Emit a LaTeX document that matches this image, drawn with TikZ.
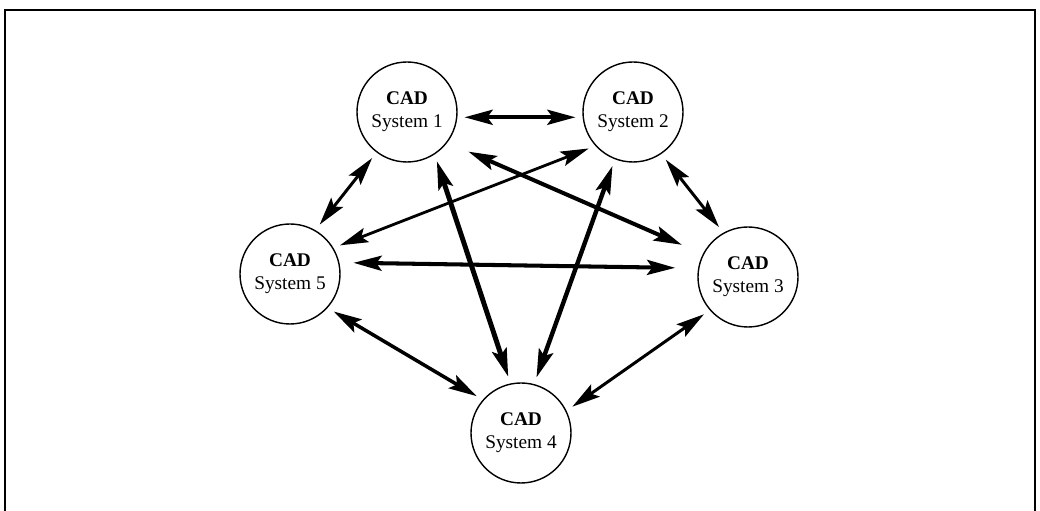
\documentclass[tikz,border=0pt]{standalone}
\usepackage{fontspec}
\setmainfont{Liberation Serif}
\usetikzlibrary{arrows.meta}
\tikzset{
	cad/.style={circle,draw,line width=0.8pt,minimum size=2cm,inner sep=0pt,align=center,font=\fontsize{11}{13}\selectfont},
	link/.style={<->,line width=#1,shorten <=4pt,shorten >=4pt},
	link/.default=1.8pt
}
\begin{document}
\begin{tikzpicture}[>={Stealth[length=16pt,width=8.5pt,inset=3pt]}]
			\useasboundingbox (0,0) rectangle (20.8,10.22);
			\draw[line width=1.1pt] (0.1,0) -- (0.1,10.02) -- (20.7,10.02) -- (20.7,0);
			\node[cad] (s1) at (8.14,7.98) {\textbf{CAD}\\System 1};
			\node[cad] (s2) at (12.66,7.98) {\textbf{CAD}\\System 2};
			\node[cad] (s3) at (14.96,4.68) {\textbf{CAD}\\System 3};
			\node[cad] (s4) at (10.42,1.56) {\textbf{CAD}\\System 4};
			\node[cad] (s5) at (5.80,4.74) {\textbf{CAD}\\System 5};
			\draw[link=2.5pt] (s1.-6) -- (s2.186);
			\draw[link=1.7pt] (s1.-127) -- (s5.60);
			\draw[link=2.8pt] (s1.-57) -- (s4.102);
			\draw[link=2.3pt,shorten <=13pt,shorten >=13pt] (s1.-37) -- (s3.153);
			\draw[link=1.6pt] (s5.31) -- (s2.-138);
			\draw[link=2.5pt] (s2.-111) -- (s4.75);
			\draw[link=1.7pt] (s2.-56) -- (s3.119);
			\draw[link=2.3pt,shorten <=8pt,shorten >=13pt] (s5.13) -- (s3.170);
			\draw[link=2pt] (s5.-42) -- (s4.139.5);
			\draw[link=1.7pt] (s3.-139) -- (s4.26);
	\end{tikzpicture}
\end{document}
